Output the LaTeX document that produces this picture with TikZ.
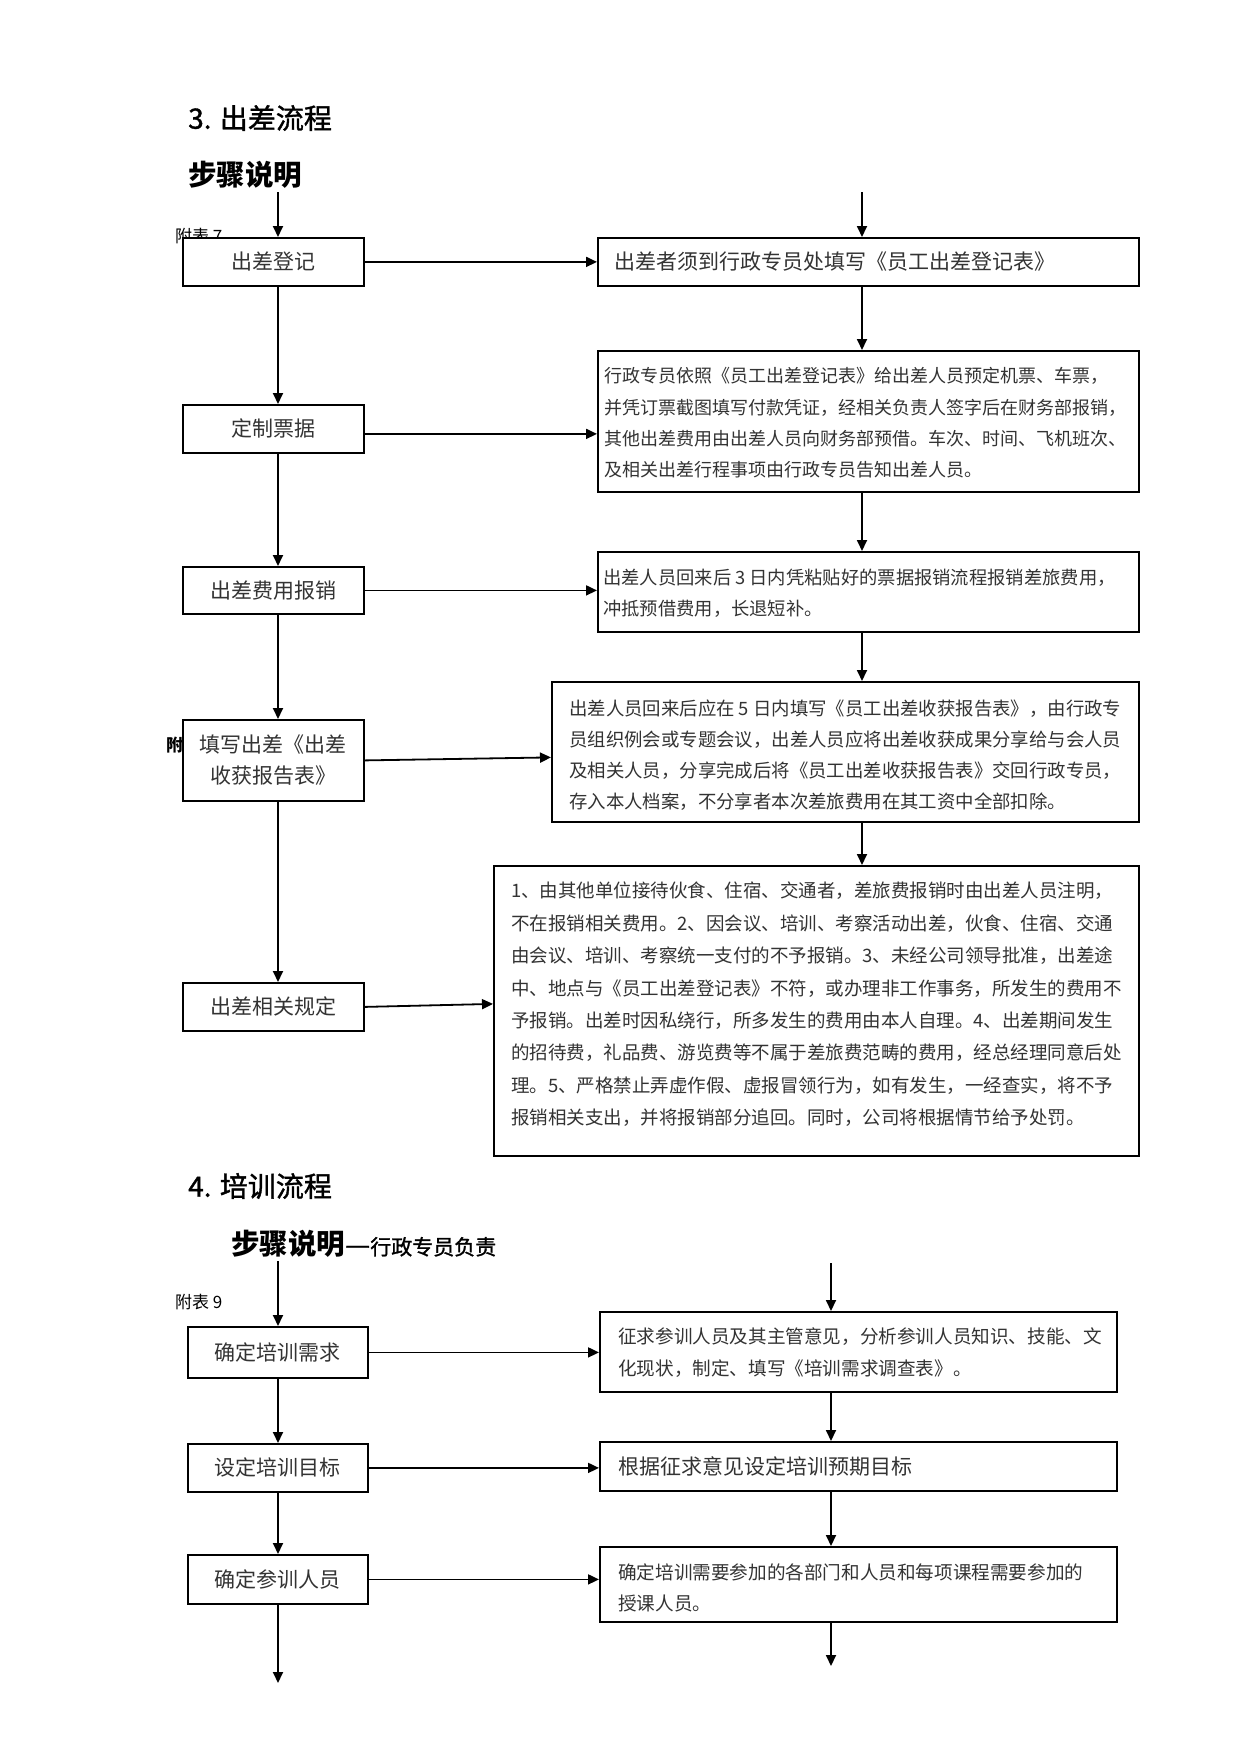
\documentclass[tikz,border=0pt]{standalone}
\usepackage{fontspec}
\setmainfont{Noto Sans CJK SC}
\newfontfamily\hfont{Noto Sans CJK SC}[FakeBold=1.3]
\usetikzlibrary{arrows.meta}
\tikzset{
  box/.style={draw, line width=1.8pt, fill=white, inner sep=0pt, anchor=north west, align=center,
              font=\fontsize{21}{31}\selectfont, text=black!80},
  body/.style={anchor=west, inner sep=0pt, align=left, text=black!80},
  head/.style={anchor=west, inner sep=0pt, font=\hfont\fontsize{28}{32}\selectfont},
  lab/.style={anchor=west, inner sep=0pt, font=\fontsize{17}{20}\selectfont},
  arr/.style={line width=1.8pt, -{Triangle[length=11pt,width=10pt]}}
}
\begin{document}
\begin{tikzpicture}[x=1pt,y=-1pt]
\fill[white] (0,0) rectangle (1241,1754);
\useasboundingbox (0,0) rectangle (1241,1754);

% headings
\node[head] (h1) at (188,118) {3. 出差流程};
\node[head, font=\fontsize{28.5}{32}\selectfont\bfseries] (h2) at (188,175) {步骤说明};
\node[head] (h3) at (188,1186) {4. 培训流程};
\node[head] (h4) at (231,1244) {{\normalfont\fontsize{28.5}{32}\selectfont\bfseries 步骤说明}{\fontsize{28}{32}\selectfont —}{\fontsize{21}{25}\selectfont 行政专员负责}};

% labels (partly hidden behind boxes)
\node[lab] (fb7) at (175,236) {附表 7};
\node[lab, font=\fontsize{17}{20}\selectfont\bfseries] (fb8) at (166,745) {附};
\node[lab] (fb9) at (175,1302) {附表 9};

% column coordinates
\coordinate (colA) at (278,192);
\coordinate (colB) at (862,192);
\coordinate (colC) at (278,1261);
\coordinate (colD) at (831,1263);
\coordinate (endC) at (278,1683);
\coordinate (endD) at (831,1666);

% section 3 left boxes
\node[box, minimum width=181, minimum height=48] (l1) at (182,237) {出差登记};
\node[box, minimum width=181, minimum height=48] (l2) at (182,404) {定制票据};
\node[box, minimum width=181, minimum height=47] (l3) at (182,566) {出差费用报销};
\node[box, minimum width=181, minimum height=81] (l4) at (182,719) {填写出差《出差\\收获报告表》};
\node[box, minimum width=181, minimum height=48] (l5) at (182,982) {出差相关规定};

% section 3 right boxes
\node[box, minimum width=541, minimum height=48] (r1) at (597,237) {};
\node[box, minimum width=541, minimum height=141] (r2) at (597,350) {};
\node[box, minimum width=541, minimum height=80] (r3) at (597,551) {};
\node[box, minimum width=587, minimum height=140] (r4) at (551,681) {};
\node[box, minimum width=645, minimum height=290] (r5) at (493,865) {};

\node[body, font=\fontsize{21}{25}\selectfont] (r1t) at (614,262) {出差者须到行政专员处填写《员工出差登记表》};
\node[body, font=\fontsize{18}{31.3}\selectfont] (r2t) at (604,423) {行政专员依照《员工出差登记表》给出差人员预定机票、车票，\\并凭订票截图填写付款凭证，经相关负责人签字后在财务部报销，\\其他出差费用由出差人员向财务部预借。车次、时间、飞机班次、\\及相关出差行程事项由行政专员告知出差人员。};
\node[body, font=\fontsize{18.3}{31}\selectfont] (r3t) at (603,593.5) {出差人员回来后 3 日内凭粘贴好的票据报销流程报销差旅费用，\\冲抵预借费用，长退短补。};
\node[body, font=\fontsize{18.4}{31}\selectfont] (r4t) at (569,755.5) {出差人员回来后应在 5 日内填写《员工出差收获报告表》，由行政专\\员组织例会或专题会议，出差人员应将出差收获成果分享给与会人员\\及相关人员，分享完成后将《员工出差收获报告表》交回行政专员，\\存入本人档案，不分享者本次差旅费用在其工资中全部扣除。};
\node[body, font=\fontsize{18.5}{32.4}\selectfont] (r5t) at (511,1004.5) {1、由其他单位接待伙食、住宿、交通者，差旅费报销时由出差人员注明，\\不在报销相关费用。2、因会议、培训、考察活动出差，伙食、住宿、交通\\由会议、培训、考察统一支付的不予报销。3、未经公司领导批准，出差途\\中、地点与《员工出差登记表》不符，或办理非工作事务，所发生的费用不\\予报销。出差时因私绕行，所多发生的费用由本人自理。4、出差期间发生\\的招待费，礼品费、游览费等不属于差旅费范畴的费用，经总经理同意后处\\理。5、严格禁止弄虚作假、虚报冒领行为，如有发生，一经查实，将不予\\报销相关支出，并将报销部分追回。同时，公司将根据情节给予处罚。};

% section 4 boxes
\node[box, minimum width=180, minimum height=51] (lb1) at (187,1326) {确定培训需求};
\node[box, minimum width=180, minimum height=48] (lb2) at (187,1443) {设定培训目标};
\node[box, minimum width=180, minimum height=49] (lb3) at (187,1554) {确定参训人员};
\node[box, minimum width=517, minimum height=80] (rb1) at (599,1311) {};
\node[box, minimum width=517, minimum height=49] (rb2) at (599,1441) {};
\node[box, minimum width=517, minimum height=75] (rb3) at (599,1546) {};
\node[body, font=\fontsize{18.6}{32}\selectfont] (rb1t) at (618,1353) {征求参训人员及其主管意见，分析参训人员知识、技能、文\\化现状，制定、填写《培训需求调查表》。};
\node[body, font=\fontsize{21}{25}\selectfont] (rb2t) at (618,1466) {根据征求意见设定培训预期目标};
\node[body, font=\fontsize{18.6}{31}\selectfont] (rb3t) at (618,1587.5) {确定培训需要参加的各部门和人员和每项课程需要参加的\\授课人员。};

% vertical arrows, section 3
\draw[arr] (colA) -- (colA |- l1.north);
\draw[arr] (colA |- l1.south) -- (colA |- l2.north);
\draw[arr] (colA |- l2.south) -- (colA |- l3.north);
\draw[arr] (colA |- l3.south) -- (colA |- l4.north);
\draw[arr] (colA |- l4.south) -- (colA |- l5.north);
\draw[arr] (colB) -- (colB |- r1.north);
\draw[arr] (colB |- r1.south) -- (colB |- r2.north);
\draw[arr] (colB |- r2.south) -- (colB |- r3.north);
\draw[arr] (colB |- r3.south) -- (colB |- r4.north);
\draw[arr] (colB |- r4.south) -- (colB |- r5.north);

% horizontal arrows, section 3
\draw[arr] (l1.east) -- (l1.east -| r1.west);
\draw[arr] ([yshift=-5pt]l2.east) -- ([yshift=-5pt]l2.east -| r2.west);
\draw[arr] (l3.east) -- (l3.east -| r3.west);
\draw[arr] (l4.east) -- ([yshift=3pt]l4.east -| r4.west);
\draw[arr] (l5.east) -- ([yshift=3pt]l5.east -| r5.west);

% section 4 arrows
\draw[arr] (colC) -- (colC |- lb1.north);
\draw[arr] (colC |- lb1.south) -- (colC |- lb2.north);
\draw[arr] (colC |- lb2.south) -- (colC |- lb3.north);
\draw[arr] (colC |- lb3.south) -- (endC);
\draw[arr] (colD) -- (colD |- rb1.north);
\draw[arr] (colD |- rb1.south) -- (colD |- rb2.north);
\draw[arr] (colD |- rb2.south) -- (colD |- rb3.north);
\draw[arr] (colD |- rb3.south) -- (endD);
\draw[arr] (lb1.east) -- (lb1.east -| rb1.west);
\draw[arr] (lb2.east) -- (lb2.east -| rb2.west);
\draw[arr] (lb3.east) -- (lb3.east -| rb3.west);
\end{tikzpicture}
\end{document}
